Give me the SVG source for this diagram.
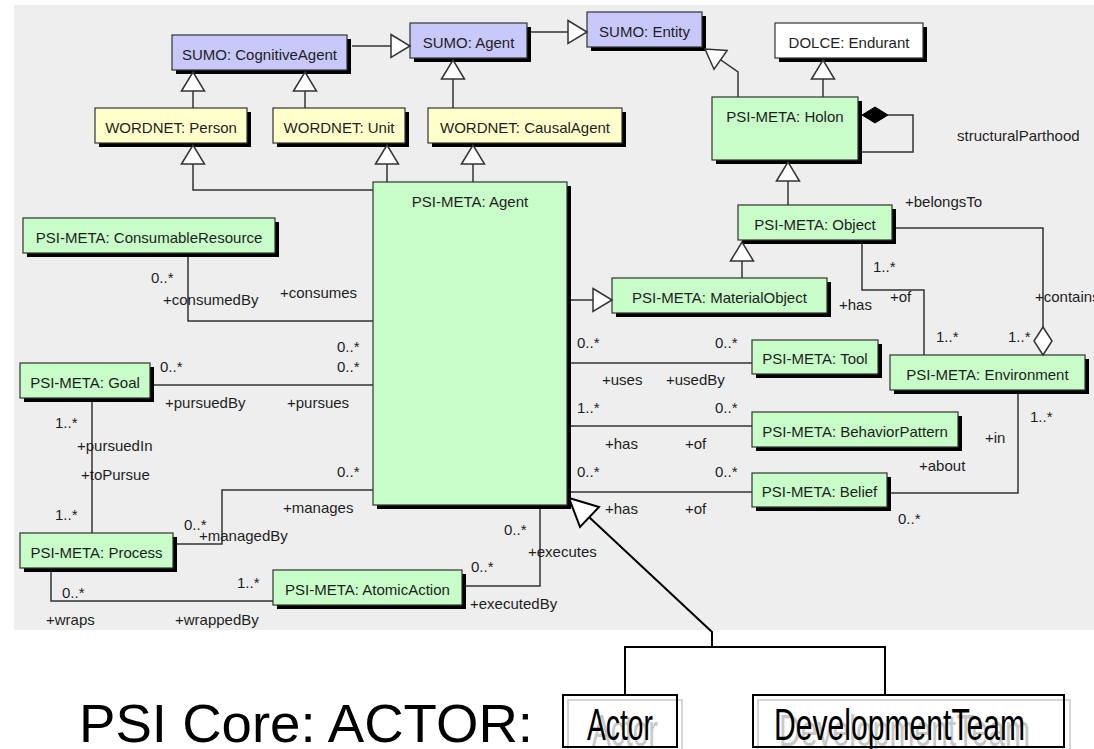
<svg xmlns="http://www.w3.org/2000/svg" width="1094" height="749" viewBox="0 0 1094 749">
  <style>
    .sh { fill: #000; }
    .box { stroke: #333; stroke-width: 1.2; }
    .sumo { fill: #c8c8fa; }
    .wn { fill: #ffffcc; }
    .psi { fill: #c8fcc8; }
    .dolce { fill: #ffffff; }
    .name { font-family: "Liberation Sans", Arial, sans-serif; font-size: 15px; fill: #1e1e1e; text-anchor: middle; }
    .lab { font-family: "Liberation Sans", Arial, sans-serif; font-size: 15px; fill: #1e1e1e; }
    .ln { fill: none; stroke: #333; stroke-width: 1.5; }
    .gen { fill: none; stroke: #333; stroke-width: 1.5; marker-end: url(#tri); }
    .big { fill: none; stroke: #000; stroke-width: 2; }
    .core { font-family: "Liberation Sans", Arial, sans-serif; font-size: 45px; fill: #000; }
    .ghost { font-family: "Liberation Sans", Arial, sans-serif; font-size: 45px; fill: #c8c8c8; }
  </style>
  <defs>
    <marker id="tri" markerUnits="userSpaceOnUse" markerWidth="22" markerHeight="26" viewBox="-1.5 -1.5 22 26" refX="19" refY="11.5" orient="auto">
      <path d="M0,0 L19,11.5 L0,23 Z" fill="#fff" stroke="#333" stroke-width="1.5"/>
    </marker>
  </defs>

  <rect x="0" y="0" width="1094" height="749" fill="#fff"/>
  <rect x="14" y="5" width="1080" height="625" fill="#eeeeee"/>

  <!-- ontology classes -->
  <g id="sumo-cognitiveagent">
    <rect class="sh" x="176" y="39" width="175" height="35"/>
    <rect class="box sumo" x="172" y="35" width="175" height="35"/>
    <text class="name" x="259.5" y="60">SUMO: CognitiveAgent</text>
  </g>
  <g id="sumo-agent">
    <rect class="sh" x="414" y="27" width="117" height="35"/>
    <rect class="box sumo" x="410" y="23" width="117" height="35"/>
    <text class="name" x="468.5" y="48">SUMO: Agent</text>
  </g>
  <g id="sumo-entity">
    <rect class="sh" x="591" y="16" width="115" height="35"/>
    <rect class="box sumo" x="587" y="12" width="115" height="35"/>
    <text class="name" x="644.5" y="37">SUMO: Entity</text>
  </g>
  <g id="dolce-endurant">
    <rect class="sh" x="779" y="27" width="148" height="35"/>
    <rect class="box dolce" x="775" y="23" width="148" height="35"/>
    <text class="name" x="849" y="48">DOLCE: Endurant</text>
  </g>
  <g id="wordnet-person">
    <rect class="sh" x="99" y="112" width="152" height="35"/>
    <rect class="box wn" x="95" y="108" width="152" height="35"/>
    <text class="name" x="171" y="133">WORDNET: Person</text>
  </g>
  <g id="wordnet-unit">
    <rect class="sh" x="277" y="112" width="132" height="35"/>
    <rect class="box wn" x="273" y="108" width="132" height="35"/>
    <text class="name" x="339" y="133">WORDNET: Unit</text>
  </g>
  <g id="wordnet-causalagent">
    <rect class="sh" x="432" y="112" width="194" height="35"/>
    <rect class="box wn" x="428" y="108" width="194" height="35"/>
    <text class="name" x="525" y="133">WORDNET: CausalAgent</text>
  </g>
  <g id="psi-holon">
    <rect class="sh" x="716" y="101" width="146" height="63"/>
    <rect class="box psi" x="712" y="97" width="146" height="63"/>
    <text class="name" x="785" y="122">PSI-META: Holon</text>
  </g>
  <g id="psi-object">
    <rect class="sh" x="742" y="209" width="154" height="35"/>
    <rect class="box psi" x="738" y="205" width="154" height="35"/>
    <text class="name" x="815" y="230">PSI-META: Object</text>
  </g>
  <g id="psi-agent">
    <rect class="sh" x="377" y="186" width="194" height="323"/>
    <rect class="box psi" x="373" y="182" width="194" height="323"/>
    <text class="name" x="470" y="207">PSI-META: Agent</text>
  </g>
  <g id="psi-materialobject">
    <rect class="sh" x="616" y="282" width="215" height="35"/>
    <rect class="box psi" x="612" y="278" width="215" height="35"/>
    <text class="name" x="719.5" y="303">PSI-META: MaterialObject</text>
  </g>
  <g id="psi-consumableresource">
    <rect class="sh" x="27" y="222" width="252" height="35"/>
    <rect class="box psi" x="23" y="218" width="252" height="35"/>
    <text class="name" x="149" y="243">PSI-META: ConsumableResource</text>
  </g>
  <g id="psi-goal">
    <rect class="sh" x="24" y="367" width="130" height="35"/>
    <rect class="box psi" x="20" y="363" width="130" height="35"/>
    <text class="name" x="85" y="388">PSI-META: Goal</text>
  </g>
  <g id="psi-process">
    <rect class="sh" x="24" y="537" width="153" height="35"/>
    <rect class="box psi" x="20" y="533" width="153" height="35"/>
    <text class="name" x="96.5" y="558">PSI-META: Process</text>
  </g>
  <g id="psi-atomicaction">
    <rect class="sh" x="277" y="574" width="189" height="35"/>
    <rect class="box psi" x="273" y="570" width="189" height="35"/>
    <text class="name" x="367.5" y="595">PSI-META: AtomicAction</text>
  </g>
  <g id="psi-tool">
    <rect class="sh" x="756" y="344" width="126" height="34"/>
    <rect class="box psi" x="752" y="340" width="126" height="34"/>
    <text class="name" x="815" y="364">PSI-META: Tool</text>
  </g>
  <g id="psi-environment">
    <rect class="sh" x="894" y="359" width="195" height="35"/>
    <rect class="box psi" x="890" y="355" width="195" height="35"/>
    <text class="name" x="987.5" y="380">PSI-META: Environment</text>
  </g>
  <g id="psi-behaviorpattern">
    <rect class="sh" x="756" y="416" width="206" height="35"/>
    <rect class="box psi" x="752" y="412" width="206" height="35"/>
    <text class="name" x="855" y="437">PSI-META: BehaviorPattern</text>
  </g>
  <g id="psi-belief">
    <rect class="sh" x="756" y="477" width="135" height="34"/>
    <rect class="box psi" x="752" y="473" width="135" height="34"/>
    <text class="name" x="819.5" y="497">PSI-META: Belief</text>
  </g>

  <!-- core level classes (each with its faint grey duplicate behind) -->
  <g id="core-actor">
    <rect x="568" y="700" width="114" height="60" fill="none" stroke="#c8c8c8" stroke-width="1.5"/>
    <text class="ghost" x="592" y="746" textLength="66" lengthAdjust="spacingAndGlyphs">Actor</text>
    <rect x="563" y="695" width="114" height="52" fill="none" stroke="#000" stroke-width="2"/>
    <text class="core" x="587" y="740" textLength="66" lengthAdjust="spacingAndGlyphs">Actor</text>
  </g>
  <g id="core-developmentteam">
    <rect x="758" y="700" width="312" height="60" fill="none" stroke="#c8c8c8" stroke-width="1.5"/>
    <text class="ghost" x="779" y="746" textLength="251" lengthAdjust="spacingAndGlyphs">DevelopmentTeam</text>
    <rect x="753" y="695" width="311" height="52" fill="none" stroke="#000" stroke-width="2"/>
    <text class="core" x="774" y="740" textLength="251" lengthAdjust="spacingAndGlyphs">DevelopmentTeam</text>
  </g>
  <text id="core-title" x="79" y="742" font-family="Liberation Sans, Arial, sans-serif" font-size="54" fill="#000" textLength="454" lengthAdjust="spacingAndGlyphs">PSI Core: ACTOR:</text>

  <!-- relationships -->
  <g id="connectors">
    <!-- generalizations -->
    <path class="gen" d="M193,108 V72"/>
    <path class="gen" d="M305,108 V72"/>
    <path class="gen" d="M352,46 H410"/>
    <path class="gen" d="M531,32 H587"/>
    <path class="gen" d="M453,108 V60"/>
    <path class="gen" d="M373,190 H193 V145"/>
    <path class="gen" d="M387,182 V145"/>
    <path class="gen" d="M473,182 V145"/>
    <path class="gen" d="M738,97 V72 L705,49"/>
    <path class="gen" d="M823,97 V60"/>
    <path class="gen" d="M788,205 V162"/>
    <path class="gen" d="M742,278 V242"/>
    <path class="gen" d="M571,300 H612"/>

    <!-- associations -->
    <path class="ln" d="M188,257 V321 H373"/>
    <path class="ln" d="M154,385 H373"/>
    <path class="ln" d="M92,402 V533"/>
    <path class="ln" d="M177,544 H222 V490 H373"/>
    <path class="ln" d="M51,572 V601 H273"/>
    <path class="ln" d="M466,586 H540 V509"/>
    <path class="ln" d="M571,363 H752"/>
    <path class="ln" d="M571,426 H752"/>
    <path class="ln" d="M571,492 H752"/>
    <path class="ln" d="M862,244 V290 H924 V355"/>
    <path class="ln" d="M896,228 H1043 V327"/>
    <path class="ln" d="M1018,394 V493 H891"/>

    <!-- composition / aggregation -->
    <path class="ln" d="M888,115 H913 V152 H862"/>
    <polygon points="862,115 875,107 888,115 875,123" fill="#000" stroke="#000" stroke-width="1"/>
    <polygon points="1043,327 1052,341 1043,355 1034,341" fill="#fff" stroke="#333" stroke-width="1.5"/>

    <!-- core classes specialise PSI-META: Agent -->
    <path class="big" d="M625,695 V647 H885 V695"/>
    <path class="big" d="M712,647 V632 L589,517"/>
    <polygon points="569,498 599,507 580,527" fill="#fff" stroke="#000" stroke-width="2"/>
  </g>

  <!-- role and multiplicity labels -->
  <g id="labels">
    <text class="lab" x="957" y="141">structuralParthood</text>
    <text class="lab" x="905" y="207">+belongsTo</text>
    <text class="lab" x="151" y="283">0..*</text>
    <text class="lab" x="163" y="305">+consumedBy</text>
    <text class="lab" x="280" y="298">+consumes</text>
    <text class="lab" x="337" y="352">0..*</text>
    <text class="lab" x="337" y="372">0..*</text>
    <text class="lab" x="160" y="372">0..*</text>
    <text class="lab" x="165" y="408">+pursuedBy</text>
    <text class="lab" x="287" y="408">+pursues</text>
    <text class="lab" x="55" y="428">1..*</text>
    <text class="lab" x="77" y="451">+pursuedIn</text>
    <text class="lab" x="81" y="480">+toPursue</text>
    <text class="lab" x="55" y="520">1..*</text>
    <text class="lab" x="337" y="477">0..*</text>
    <text class="lab" x="283" y="513">+manages</text>
    <text class="lab" x="184" y="530">0..*</text>
    <text class="lab" x="199" y="541">+managedBy</text>
    <text class="lab" x="62" y="598">0..*</text>
    <text class="lab" x="237" y="588">1..*</text>
    <text class="lab" x="46" y="625">+wraps</text>
    <text class="lab" x="175" y="625">+wrappedBy</text>
    <text class="lab" x="504" y="535">0..*</text>
    <text class="lab" x="528" y="557">+executes</text>
    <text class="lab" x="471" y="572">0..*</text>
    <text class="lab" x="470" y="609">+executedBy</text>
    <text class="lab" x="577" y="348">0..*</text>
    <text class="lab" x="715" y="348">0..*</text>
    <text class="lab" x="602" y="385">+uses</text>
    <text class="lab" x="666" y="385">+usedBy</text>
    <text class="lab" x="577" y="413">1..*</text>
    <text class="lab" x="715" y="413">0..*</text>
    <text class="lab" x="605" y="449">+has</text>
    <text class="lab" x="685" y="449">+of</text>
    <text class="lab" x="577" y="477">0..*</text>
    <text class="lab" x="715" y="477">0..*</text>
    <text class="lab" x="605" y="514">+has</text>
    <text class="lab" x="685" y="514">+of</text>
    <text class="lab" x="873" y="272">1..*</text>
    <text class="lab" x="839" y="310">+has</text>
    <text class="lab" x="890" y="302">+of</text>
    <text class="lab" x="936" y="342">1..*</text>
    <text class="lab" x="1035" y="302">+contains</text>
    <text class="lab" x="1008" y="342">1..*</text>
    <text class="lab" x="1030" y="422">1..*</text>
    <text class="lab" x="985" y="443">+in</text>
    <text class="lab" x="919" y="471">+about</text>
    <text class="lab" x="898" y="524">0..*</text>
  </g>
</svg>
